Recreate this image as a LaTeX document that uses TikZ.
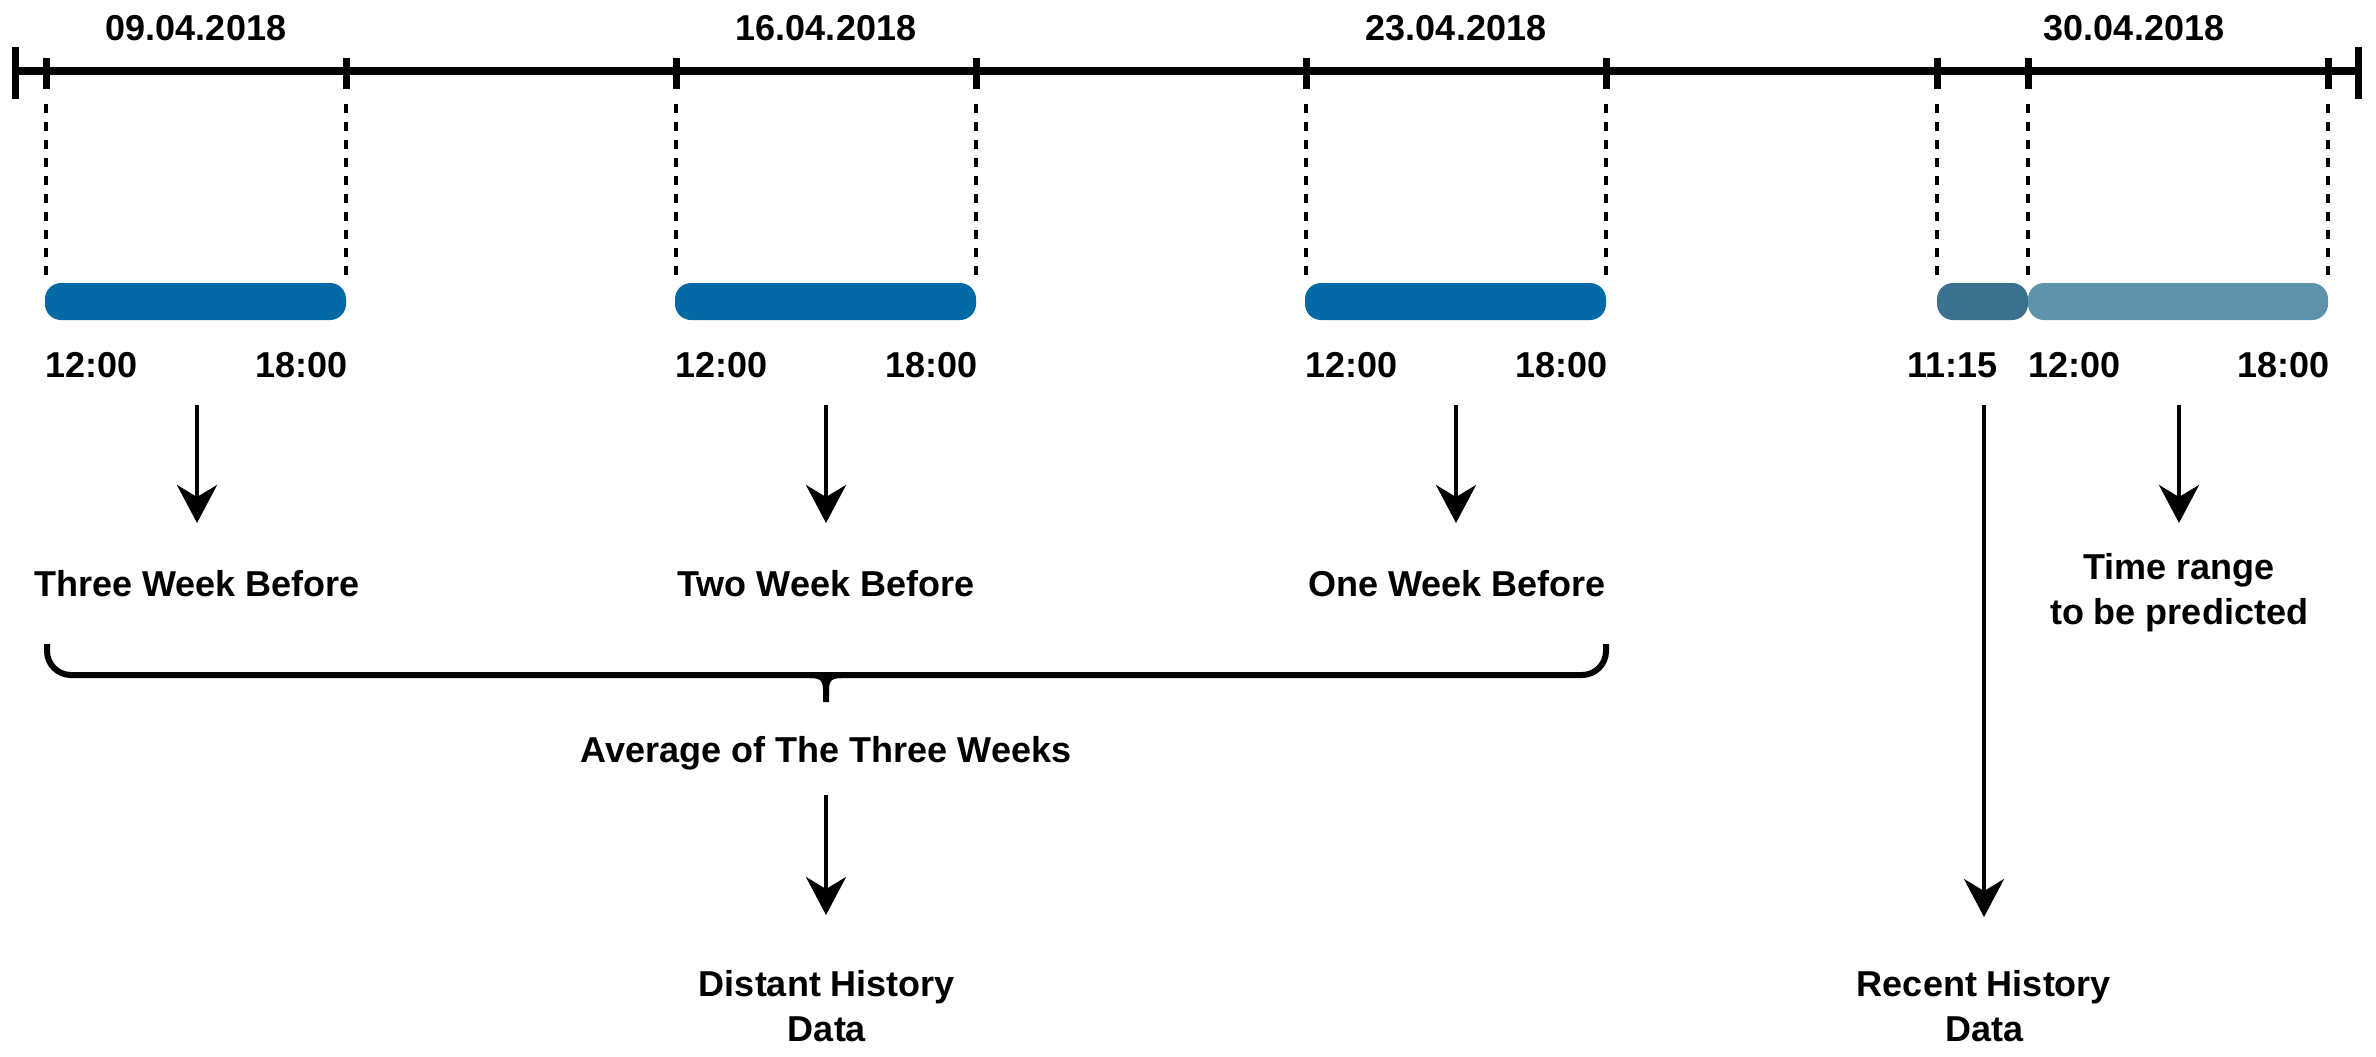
\documentclass[tikz,border=0pt]{standalone}
\usepackage{fontspec}
\setmainfont{Liberation Sans}
\usetikzlibrary{arrows.meta}
\definecolor{histblue}{HTML}{046AA6}
\definecolor{recentblue}{HTML}{3B718C}
\definecolor{predblue}{HTML}{5E93AB}
\begin{document}
\begin{tikzpicture}[x=0.5pt,y=-0.5pt,
  lbl/.style={font=\bfseries\fontsize{18pt}{22.5pt}\selectfont, inner sep=0pt, anchor=base},
  lbltwo/.style={font=\bfseries\fontsize{18pt}{22.5pt}\selectfont, inner sep=0pt, align=center},
  axisline/.style={line width=4pt},
  tickline/.style={line width=3.5pt},
  guide/.style={line width=2pt, dash pattern=on 4.5pt off 4.5pt},
  bar/.style={rounded corners=8pt, inner sep=0pt, minimum height=18.5pt, draw=none},
  arr/.style={line width=2pt, -{Stealth[length=19pt,width=20pt,inset=6pt]}},
  bracel/.style={line width=3pt}]
\useasboundingbox (0,0) rectangle (2376,1056);

% axis
\draw[axisline] (15,71) -- (2358,71);
\draw[tickline] (15,47) -- (15,99);
\draw[tickline] (2358,47) -- (2358,99);
\foreach \x in {46,346,676,976,1306,1606,1937,2028,2328}{
  \draw[tickline] (\x,58) -- (\x,89);
  \draw[guide] (\x,104) -- (\x,279);
}

% dates
\node[lbl] (d1) at (196,40) {09.04.2018};
\node[lbl] (d2) at (826,40) {16.04.2018};
\node[lbl] (d3) at (1456,40) {23.04.2018};
\node[lbl] (d4) at (2134,40) {30.04.2018};

% bars
\node[bar, fill=histblue, minimum width=150.5pt] (bar1) at (195.5,301.5) {};
\node[bar, fill=histblue, minimum width=150.5pt] (bar2) at (825.5,301.5) {};
\node[bar, fill=histblue, minimum width=150.5pt] (bar3) at (1455.5,301.5) {};
\node[bar, fill=recentblue, minimum width=45.5pt] (bar4) at (1982.5,301.5) {};
\node[bar, fill=predblue, minimum width=150pt] (bar5) at (2178,301.5) {};

% time labels
\node[lbl, anchor=base west] (t1a) at (45,377) {12:00};
\node[lbl, anchor=base east] (t1b) at (348,377) {18:00};
\node[lbl, anchor=base west] (t2a) at (675,377) {12:00};
\node[lbl, anchor=base east] (t2b) at (978,377) {18:00};
\node[lbl, anchor=base west] (t3a) at (1305,377) {12:00};
\node[lbl, anchor=base east] (t3b) at (1608,377) {18:00};
\node[lbl, anchor=base east] (t4r) at (1998,377) {11:15};
\node[lbl, anchor=base west] (t4a) at (2028,377) {12:00};
\node[lbl, anchor=base east] (t4b) at (2330,377) {18:00};

% week labels
\node[lbl] (w3) at (197,596) {Three Week Before};
\node[lbl] (w2) at (826,596) {Two Week Before};
\node[lbl] (w1) at (1457,596) {One Week Before};
\node[lbltwo] (pred) at (2179,593) {Time range\\to be predicted};

% arrows
\coordinate (a1s) at (197,405); \coordinate (a1e) at (197,523);
\coordinate (a2s) at (826,405); \coordinate (a2e) at (826,523);
\coordinate (a3s) at (1456,405); \coordinate (a3e) at (1456,523);
\coordinate (a4s) at (2179,405); \coordinate (a4e) at (2179,523);
\coordinate (a5s) at (1984,405); \coordinate (a5e) at (1984,917);
\draw[arr] (a1s) -- (a1e);
\draw[arr] (a2s) -- (a2e);
\draw[arr] (a3s) -- (a3e);
\draw[arr] (a4s) -- (a4e);
\draw[arr] (a5s) -- (a5e);

% brace
\draw[bracel, rounded corners=12pt] (47,644) -- (47,675) -- (1606,675) -- (1606,644);
\draw[bracel] (810,675) .. controls (822,675) and (826,679) .. (826,690) -- (826,702);
\draw[bracel] (842,675) .. controls (830,675) and (826,679) .. (826,690);
\coordinate (brtip) at (826,702);

\node[lbl] (avg) at (826,762) {Average of The Three Weeks};
\coordinate (a6s) at (826,795); \coordinate (a6e) at (826,915);
\draw[arr] (a6s) -- (a6e);

\node[lbltwo] (dist) at (827,1006) {Distant History\\Data};
\node[lbltwo] (rec) at (1984,1006) {Recent History\\Data};
\end{tikzpicture}
\end{document}
